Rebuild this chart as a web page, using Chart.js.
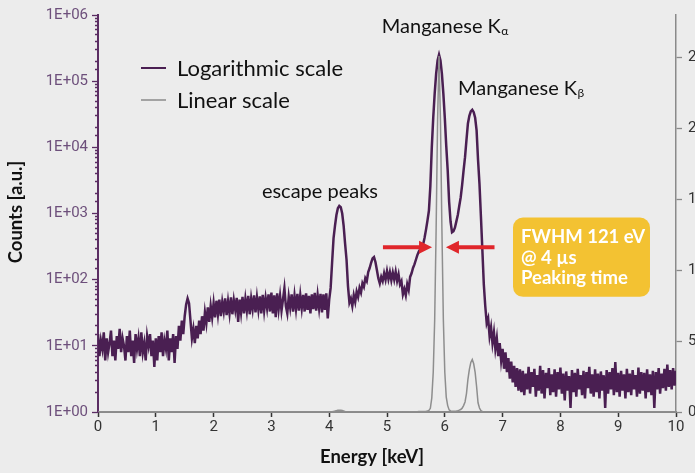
<!DOCTYPE html>
<html>
<head>
<meta charset="utf-8">
<title>Mn spectrum</title>
<script src="https://cdn.jsdelivr.net/npm/chart.js@4.4.1/dist/chart.umd.min.js"></script>
<style>
    html, body { margin: 0; padding: 0; background: #ececec; overflow: hidden; }
    #wrap { position: relative; width: 695px; height: 473px; }
</style>
</head>
<body>
<div id="wrap"><canvas id="spectrum" width="695" height="473"></canvas></div>
<script>
// energy grid of the spectrum (keV per channel)
const energyStep = 0.025;

// counts per channel, 0 keV .. 10 keV
const countsLow = [ // 0 - 1.975 keV
    15, 7, 12, 9, 16, 6, 13, 8, 11, 17, 7, 12, 6, 14, 9, 18, 8, 13, 10, 6,
    14, 8, 17, 7, 12, 5.5, 15, 9, 13, 7, 16, 8, 11, 6, 14, 10, 15, 7, 12, 4.8,
    13, 6, 14, 8, 16, 7, 12, 9, 17, 6, 13, 8, 15, 5.5, 14, 9,
    20, 12, 24, 15, 28, 42, 52, 44, 24, 13, 18, 11, 20, 13, 24, 15, 28, 17, 32, 22, 38, 23, 40, 27
];
const countsMid = [ // 2.0 - 3.975 keV
    44, 27, 48, 30, 50, 28, 46, 33, 52, 29, 47, 31, 54, 30, 49, 35, 53, 23, 50, 32,
    55, 31, 51, 34, 57, 30, 52, 36, 58, 32, 54, 35, 56, 31, 59, 34, 53, 37, 60, 33,
    64, 31, 58, 27, 62, 36, 57, 34, 50, 74, 40, 31, 55, 38, 60, 33, 57, 36, 61, 34,
    58, 37, 59, 33, 62, 35, 57, 31, 60, 36, 63, 34, 58, 37, 61, 32, 60, 35, 62, 26
];
const countsEscape = [ // 4.0 - 5.475 keV
    50, 75, 180, 420, 650, 950, 1200, 1300, 1250, 1000, 650, 350, 200, 80, 45,
    52, 40, 58, 46, 66, 55, 75, 64, 88, 78, 105, 95, 130, 150, 180, 210, 220, 185, 140, 105, 88, 110, 95, 125, 100,
    135, 102, 130, 98, 128, 100, 132, 96, 120, 85, 95, 60, 72, 58, 85, 70, 110, 125, 150, 170
];
const countsMn = [ // 5.5 - 6.7 keV, K-alpha and K-beta
    200, 235, 265, 290, 300, 340, 430, 570, 780, 1100,
    2600, 10000, 28000, 65000, 129000, 205000, 251000, 205000, 129000, 65000,
    28000, 10500, 4500, 1500, 750, 520, 540, 610, 760, 950,
    1300, 1750, 2700, 4500, 7100, 13000, 23000, 30000, 35000, 37000,
    34000, 28000, 18000, 6500, 2800, 900, 280, 85, 40
];
const countsHigh = [ // 6.725 - 10 keV
    22, 26, 14, 19, 11, 16, 9, 13, 7, 11, 6, 9, 4.5, 8, 4, 6.5, 3.2, 5.8, 2.8, 5, 2.4, 4.6, 2.1, 4.4,
    2.0, 4.2, 1.8, 3.8, 2.2, 4.8, 1.9, 4.0, 2.4, 4.5,
    1.7, 3.6, 2.1, 5.0, 1.9, 4.3, 1.6, 3.9, 2.3, 4.6,
    1.8, 3.7, 2.0, 4.4, 1.7, 4.0, 2.2, 4.7, 1.9, 3.8,
    1.5, 4.1, 2.1, 3.5, 1.15, 4.3, 2.0, 3.9, 1.7, 4.5,
    2.2, 3.6, 1.8, 4.2, 1.6, 4.0, 2.3, 4.8, 1.9, 3.7,
    1.7, 4.4, 2.0, 3.8, 1.6, 4.1, 2.1, 3.6, 1.15, 4.3,
    1.9, 4.0, 2.2, 4.6, 1.8, 5.7, 2.0, 3.9, 1.7, 4.2,
    2.1, 3.7, 1.6, 4.5, 2.0, 3.8, 1.8, 4.3, 2.2, 3.6,
    1.7, 4.7, 1.9, 4.0, 2.1, 3.9, 1.6, 4.4, 2.0, 3.7,
    1.8, 4.2, 1.15, 4.0, 2.2, 4.6, 1.9, 3.8, 2.3, 4.5,
    2.1, 5.2, 2.4, 4.3, 2.2, 4.6, 2.5, 4.2
];

// axis ticks
const energyTicks = [0, 1, 2, 3, 4, 5, 6, 7, 8, 9, 10];
const logTickLabels = ['1E+00', '1E+01', '1E+02', '1E+03', '1E+04', '1E+05', '1E+06'];
const linearTicks = [0, 50000, 100000, 150000, 200000, 250000];

const seriesNames = ['Logarithmic scale', 'Linear scale'];

const PURPLE = '#4a1f52';
const GREY = '#8e8e8e';
const TICK_FONT = { family: 'Roboto', size: 15 };

const counts = [...countsLow, ...countsMid, ...countsEscape, ...countsMn, ...countsHigh];
const points = counts.map((c, i) => ({ x: +(i * energyStep).toFixed(3), y: c }));

const isDecade = v => Math.abs(Math.log10(v) - Math.round(Math.log10(v))) < 1e-9;

// Vẽ chú thích, nhãn và hộp ghi chú
const notesPlugin = {
    id: 'notes',
    afterDraw(chart) {
        const ctx = chart.ctx;
        const sx = v => chart.scales.x.getPixelForValue(v);
        const sy = v => chart.scales.y.getPixelForValue(v);
        ctx.save();

        // axis titles
        ctx.fillStyle = '#111';
        ctx.font = 'bold 18.5px Lato';
        ctx.textAlign = 'center';
        ctx.textBaseline = 'middle';
        ctx.fillText('Energy [keV]', 372, 457);
        ctx.save();
        ctx.translate(16, 212);
        ctx.rotate(-Math.PI / 2);
        ctx.fillText('Counts [a.u.]', 0, 0);
        ctx.restore();

        // legend
        const colors = [PURPLE, '#a3a3a3'];
        seriesNames.forEach((name, i) => {
            const y = 68 + i * 32;
            ctx.strokeStyle = colors[i];
            ctx.lineWidth = 2;
            ctx.beginPath();
            ctx.moveTo(141, y);
            ctx.lineTo(166, y);
            ctx.stroke();
            ctx.fillStyle = '#111';
            ctx.font = '22px Lato';
            ctx.textAlign = 'left';
            ctx.textBaseline = 'middle';
            ctx.fillText(name, 177, y + 1);
        });

        // peak labels
        ctx.textBaseline = 'alphabetic';
        ctx.font = '20px Lato';
        ctx.textAlign = 'center';
        ctx.fillText('escape peaks', sx(3.84), sy(1740));
        const peakLabel = (x, y, sub) => {
            ctx.font = '20px Lato';
            ctx.textAlign = 'left';
            ctx.fillText('Manganese K', x, y);
            const w = ctx.measureText('Manganese K').width;
            ctx.font = '12px Lato';
            ctx.fillText(sub, x + w + 0.5, y + 2);
        };
        peakLabel(sx(4.91), sy(537000), 'α');
        peakLabel(sx(6.23), sy(61700), 'β');

        // red FWHM arrows
        const arrow = (x0, x1, y) => {
            const dir = Math.sign(x1 - x0);
            ctx.strokeStyle = '#e0262b';
            ctx.fillStyle = '#e0262b';
            ctx.lineWidth = 4;
            ctx.beginPath();
            ctx.moveTo(x0, y);
            ctx.lineTo(x1 - dir * 11, y);
            ctx.stroke();
            ctx.beginPath();
            ctx.moveTo(x1, y);
            ctx.lineTo(x1 - dir * 13, y - 6.5);
            ctx.lineTo(x1 - dir * 13, y + 6.5);
            ctx.closePath();
            ctx.fill();
        };
        const ay = sy(309);
        arrow(sx(4.93), sx(5.78), ay);
        arrow(sx(6.86), sx(6.02), ay);

        // yellow note box
        const bx = sx(7.18), by = sy(871);
        const bw = sx(9.55) - bx, bh = sy(55) - by;
        ctx.fillStyle = '#f3c232';
        ctx.beginPath();
        ctx.roundRect(bx, by, bw, bh, 10);
        ctx.fill();
        ctx.fillStyle = '#ffffff';
        ctx.font = 'bold 18.5px Lato';
        ctx.textAlign = 'left';
        ['FWHM 121 eV', '@ 4 µs', 'Peaking time'].forEach((t, i) => {
            ctx.fillText(t, bx + 8, by + 26 + i * 20.5);
        });

        ctx.restore();
    }
};

new Chart(document.getElementById('spectrum'), {
    type: 'line',
    data: {
        datasets: [
            {
                label: seriesNames[1],
                data: points,
                yAxisID: 'y2',
                borderColor: GREY,
                borderWidth: 1.5,
                pointRadius: 0,
                order: 0,
            },
            {
                label: seriesNames[0],
                data: points,
                yAxisID: 'y',
                borderColor: PURPLE,
                borderWidth: 2.5,
                pointRadius: 0,
                order: 1,
            },
        ],
    },
    options: {
        responsive: false,
        animation: false,
        devicePixelRatio: 1,
        layout: { padding: { top: 14, left: 0, right: 0, bottom: 0 } },
        plugins: { legend: { display: false }, tooltip: { enabled: false } },
        scales: {
            x: {
                type: 'linear',
                min: energyTicks[0],
                max: energyTicks[energyTicks.length - 1],
                afterBuildTicks: s => { s.ticks = energyTicks.map(v => ({ value: v })); },
                border: { color: '#8a8a8a', width: 2 },
                grid: { drawOnChartArea: false, tickLength: 5, tickColor: '#333', tickWidth: 1.5 },
                ticks: { color: '#333', font: TICK_FONT, padding: 1, maxRotation: 0, autoSkip: false },
                afterFit: s => { s.height = 61; },
            },
            y: {
                type: 'logarithmic',
                position: 'left',
                min: 1,
                max: 1e6,
                border: { color: '#5b2d63', width: 2 },
                grid: {
                    drawOnChartArea: false,
                    tickLength: 6,
                    tickColor: '#5b2d63',
                    tickWidth: 1.3,
                    tickBorderDash: ctx => (ctx.tick && isDecade(ctx.tick.value)) ? [] : [0, 3, 3, 10],
                },
                ticks: {
                    autoSkip: false,
                    color: '#6d4f7b',
                    font: TICK_FONT,
                    padding: 4,
                    callback: v => isDecade(v) ? logTickLabels[Math.round(Math.log10(v))] : '',
                },
                afterFit: s => { s.width = 98; },
            },
            y2: {
                type: 'linear',
                position: 'right',
                min: 0,
                max: 280000,
                afterBuildTicks: s => { s.ticks = linearTicks.map(v => ({ value: v })); },
                border: { color: '#8a8a8a', width: 1.5 },
                grid: { drawOnChartArea: false, tickLength: 6, tickColor: '#8a8a8a', tickWidth: 1.3 },
                ticks: { color: '#333', font: TICK_FONT, padding: 6, autoSkip: false },
                afterFit: s => { s.width = 19; },
            },
        },
    },
    plugins: [notesPlugin],
});
</script>
</body>
</html>
